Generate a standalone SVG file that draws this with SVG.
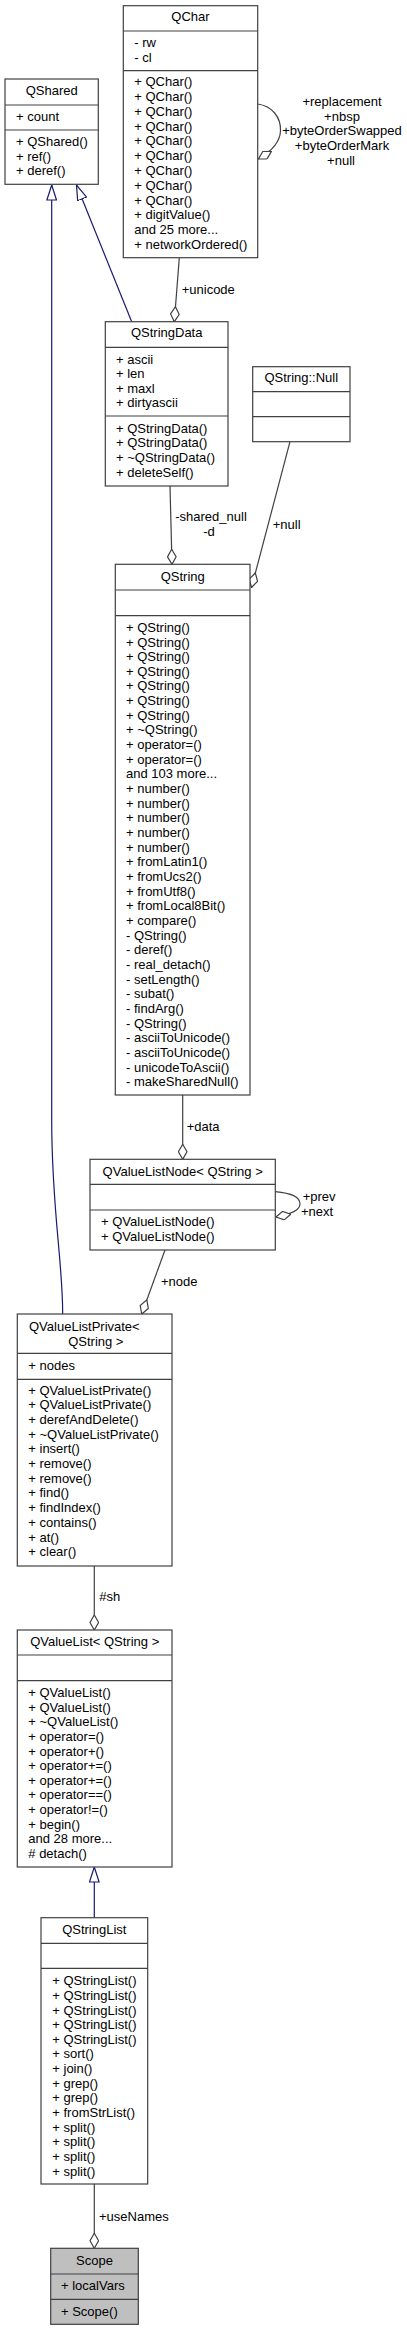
<svg xmlns="http://www.w3.org/2000/svg" width="407" height="2331" viewBox="0 0 407 2331">
<style>
.bg{fill:#fff}
.box{fill:#fff;stroke:#404040;stroke-width:1.2}
.root{fill:#bfbfbf;stroke:#404040;stroke-width:1.2}
.div{stroke:#404040;stroke-width:1.2}
text{font-family:"Liberation Sans",Arial,Helvetica,sans-serif;font-size:13px;fill:#000}
.c{text-anchor:middle}
.agg{fill:none;stroke:#404040;stroke-width:1.2;marker-end:url(#diamond)}
.inh{fill:none;stroke:#191970;stroke-width:1.2;marker-end:url(#tri)}
</style>
<defs>
<marker id="diamond" viewBox="0 0 16 10" refX="15.5" refY="5" markerWidth="16" markerHeight="10" markerUnits="userSpaceOnUse" orient="auto">
<path d="M0.5,5 L8,0.7 L15.5,5 L8,9.3 Z" fill="#fff" stroke="#404040" stroke-width="1.2"/>
</marker>
<marker id="tri" viewBox="0 0 16 11" refX="15.5" refY="5.5" markerWidth="16" markerHeight="11" markerUnits="userSpaceOnUse" orient="auto">
<path d="M0.5,0.7 L15.5,5.5 L0.5,10.3 Z" fill="#fff" stroke="#191970" stroke-width="1.2"/>
</marker>
</defs>
<rect class="bg" x="0" y="0" width="407" height="2331"/>

<g id="connectors">
<path class="inh" d="M62.7,1314 C62.7,1260 51.7,1210 51.7,1120 L51.7,185"/>
<path class="inh" d="M131.7,321.7 L76.5,185"/>
<path class="agg" d="M179.3,257.7 L174.3,321.7"/>
<path class="agg" d="M257.7,104 C272,106 281,117 280.5,131 C280,142 272,151 258.5,159"/>
<path class="agg" d="M170,486 L172,564.3"/>
<path class="agg" d="M290,441.7 L251.5,587.5"/>
<path class="agg" d="M182.7,1095 L182.7,1159.3"/>
<path class="agg" d="M275.3,1191.7 C290,1193 300,1197 300,1204 C300,1210 292,1214 276,1217"/>
<path class="agg" d="M165,1250 L141.7,1314"/>
<path class="agg" d="M94.3,1566 L94.3,1630"/>
<path class="inh" d="M94.3,1917.7 L94.3,1867"/>
<path class="agg" d="M94.3,2184 L94.3,2248.3"/>
<text x="181.7" y="293.5">+unicode</text>
<text class="c" x="342" y="106.2">+replacement</text>
<text class="c" x="342" y="121.2">+nbsp</text>
<text class="c" x="342" y="135.2">+byteOrderSwapped</text>
<text class="c" x="342" y="150.2">+byteOrderMark</text>
<text class="c" x="341" y="165.2">+null</text>
<text class="c" x="211" y="521.2">-shared_null</text>
<text class="c" x="209" y="536.2">-d</text>
<text class="c" x="286.7" y="528.8">+null</text>
<text x="186.7" y="1131.2">+data</text>
<text x="302.7" y="1201.2">+prev</text>
<text x="301" y="1215.5">+next</text>
<text x="161" y="1285.5">+node</text>
<text x="99.3" y="1600.5">#sh</text>
<text x="99" y="2220.5">+useNames</text>
</g>

<g id="QShared">
<rect class="box" x="5" y="79" width="93.3" height="105.3"/>
<line class="div" x1="5" y1="105" x2="98.3" y2="105"/>
<line class="div" x1="5" y1="130" x2="98.3" y2="130"/>
<text class="c" x="51.7" y="94.5">QShared</text>
<text x="16" y="121.2">+ count</text>
<text x="16" y="146.2">+ QShared()</text>
<text x="16" y="160.5">+ ref()</text>
<text x="16" y="175.2">+ deref()</text>
</g>

<g id="QChar">
<rect class="box" x="123.3" y="5.7" width="134.4" height="252"/>
<line class="div" x1="123.3" y1="31" x2="257.7" y2="31"/>
<line class="div" x1="123.3" y1="70.7" x2="257.7" y2="70.7"/>
<text class="c" x="190.5" y="21.2">QChar</text>
<text x="134.3" y="47.2">- rw</text>
<text x="134.3" y="62.2">- cl</text>
<text x="134.3" y="86.2">+ QChar()</text>
<text x="134.3" y="101">+ QChar()</text>
<text x="134.3" y="115.8">+ QChar()</text>
<text x="134.3" y="130.6">+ QChar()</text>
<text x="134.3" y="145.4">+ QChar()</text>
<text x="134.3" y="160.2">+ QChar()</text>
<text x="134.3" y="175">+ QChar()</text>
<text x="134.3" y="189.8">+ QChar()</text>
<text x="134.3" y="204.6">+ QChar()</text>
<text x="134.3" y="219.4">+ digitValue()</text>
<text x="134.3" y="234.2">and 25 more...</text>
<text x="134.3" y="249">+ networkOrdered()</text>
</g>

<g id="QStringData">
<rect class="box" x="105.3" y="321.7" width="122.7" height="164.3"/>
<line class="div" x1="105.3" y1="347.3" x2="228" y2="347.3"/>
<line class="div" x1="105.3" y1="416" x2="228" y2="416"/>
<text class="c" x="166.7" y="337.2">QStringData</text>
<text x="116" y="363.5">+ ascii</text>
<text x="116" y="378.1">+ len</text>
<text x="116" y="392.7">+ maxl</text>
<text x="116" y="407.3">+ dirtyascii</text>
<text x="116" y="432.8">+ QStringData()</text>
<text x="116" y="447.4">+ QStringData()</text>
<text x="116" y="462">+ ~QStringData()</text>
<text x="116" y="476.6">+ deleteSelf()</text>
</g>

<g id="QStringNull">
<rect class="box" x="252.7" y="366.7" width="97.3" height="75"/>
<line class="div" x1="252.7" y1="391.7" x2="350" y2="391.7"/>
<line class="div" x1="252.7" y1="416.7" x2="350" y2="416.7"/>
<text class="c" x="301.3" y="382.2">QString::Null</text>
</g>

<g id="QString">
<rect class="box" x="115.3" y="564.3" width="134.7" height="530.7"/>
<line class="div" x1="115.3" y1="590" x2="250" y2="590"/>
<line class="div" x1="115.3" y1="615.7" x2="250" y2="615.7"/>
<text class="c" x="182.7" y="580.5">QString</text>
<text x="126" y="631.8">+ QString()</text>
<text x="126" y="646.5">+ QString()</text>
<text x="126" y="661.1">+ QString()</text>
<text x="126" y="675.8">+ QString()</text>
<text x="126" y="690.4">+ QString()</text>
<text x="126" y="705.1">+ QString()</text>
<text x="126" y="719.8">+ QString()</text>
<text x="126" y="734.4">+ ~QString()</text>
<text x="126" y="749.1">+ operator=()</text>
<text x="126" y="763.7">+ operator=()</text>
<text x="126" y="778.4">and 103 more...</text>
<text x="126" y="793.1">+ number()</text>
<text x="126" y="807.7">+ number()</text>
<text x="126" y="822.4">+ number()</text>
<text x="126" y="837">+ number()</text>
<text x="126" y="851.7">+ number()</text>
<text x="126" y="866.4">+ fromLatin1()</text>
<text x="126" y="881">+ fromUcs2()</text>
<text x="126" y="895.7">+ fromUtf8()</text>
<text x="126" y="910.3">+ fromLocal8Bit()</text>
<text x="126" y="925">+ compare()</text>
<text x="126" y="939.7">- QString()</text>
<text x="126" y="954.3">- deref()</text>
<text x="126" y="969">- real_detach()</text>
<text x="126" y="983.6">- setLength()</text>
<text x="126" y="998.3">- subat()</text>
<text x="126" y="1013">- findArg()</text>
<text x="126" y="1027.6">- QString()</text>
<text x="126" y="1042.3">- asciiToUnicode()</text>
<text x="126" y="1056.9">- asciiToUnicode()</text>
<text x="126" y="1071.6">- unicodeToAscii()</text>
<text x="126" y="1086.3">- makeSharedNull()</text>
</g>

<g id="QValueListNode">
<rect class="box" x="90" y="1159.3" width="185.3" height="90.7"/>
<line class="div" x1="90" y1="1184.3" x2="275.3" y2="1184.3"/>
<line class="div" x1="90" y1="1210" x2="275.3" y2="1210"/>
<text class="c" x="182.7" y="1176.3">QValueListNode&lt; QString &gt;</text>
<text x="101" y="1226.2">+ QValueListNode()</text>
<text x="101" y="1241.2">+ QValueListNode()</text>
</g>

<g id="QValueListPrivate">
<rect class="box" x="17.3" y="1314" width="154.7" height="252"/>
<line class="div" x1="17.3" y1="1353.3" x2="172" y2="1353.3"/>
<line class="div" x1="17.3" y1="1379.3" x2="172" y2="1379.3"/>
<text x="29" y="1330.5">QValueListPrivate&lt;</text>
<text class="c" x="95.8" y="1345.5">QString &gt;</text>
<text x="28.3" y="1369.5">+ nodes</text>
<text x="28.3" y="1394.5">+ QValueListPrivate()</text>
<text x="28.3" y="1409.2">+ QValueListPrivate()</text>
<text x="28.3" y="1423.9">+ derefAndDelete()</text>
<text x="28.3" y="1438.6">+ ~QValueListPrivate()</text>
<text x="28.3" y="1453.3">+ insert()</text>
<text x="28.3" y="1468">+ remove()</text>
<text x="28.3" y="1482.7">+ remove()</text>
<text x="28.3" y="1497.4">+ find()</text>
<text x="28.3" y="1512.1">+ findIndex()</text>
<text x="28.3" y="1526.8">+ contains()</text>
<text x="28.3" y="1541.5">+ at()</text>
<text x="28.3" y="1556.2">+ clear()</text>
</g>

<g id="QValueList">
<rect class="box" x="17.3" y="1630" width="154.7" height="237"/>
<line class="div" x1="17.3" y1="1655" x2="172" y2="1655"/>
<line class="div" x1="17.3" y1="1680.7" x2="172" y2="1680.7"/>
<text class="c" x="94.7" y="1646.2">QValueList&lt; QString &gt;</text>
<text x="28.3" y="1697.2">+ QValueList()</text>
<text x="28.3" y="1711.8">+ QValueList()</text>
<text x="28.3" y="1726.4">+ ~QValueList()</text>
<text x="28.3" y="1741">+ operator=()</text>
<text x="28.3" y="1755.6">+ operator+()</text>
<text x="28.3" y="1770.2">+ operator+=()</text>
<text x="28.3" y="1784.8">+ operator+=()</text>
<text x="28.3" y="1799.4">+ operator==()</text>
<text x="28.3" y="1814">+ operator!=()</text>
<text x="28.3" y="1828.6">+ begin()</text>
<text x="28.3" y="1843.2">and 28 more...</text>
<text x="28.3" y="1857.8"># detach()</text>
</g>

<g id="QStringList">
<rect class="box" x="41" y="1917.7" width="106.7" height="266.3"/>
<line class="div" x1="41" y1="1943.3" x2="147.7" y2="1943.3"/>
<line class="div" x1="41" y1="1968.3" x2="147.7" y2="1968.3"/>
<text class="c" x="94.3" y="1933.5">QStringList</text>
<text x="52.3" y="1985.2">+ QStringList()</text>
<text x="52.3" y="1999.8">+ QStringList()</text>
<text x="52.3" y="2014.5">+ QStringList()</text>
<text x="52.3" y="2029.1">+ QStringList()</text>
<text x="52.3" y="2043.8">+ QStringList()</text>
<text x="52.3" y="2058.4">+ sort()</text>
<text x="52.3" y="2073">+ join()</text>
<text x="52.3" y="2087.7">+ grep()</text>
<text x="52.3" y="2102.3">+ grep()</text>
<text x="52.3" y="2117">+ fromStrList()</text>
<text x="52.3" y="2131.6">+ split()</text>
<text x="52.3" y="2146.2">+ split()</text>
<text x="52.3" y="2160.9">+ split()</text>
<text x="52.3" y="2175.5">+ split()</text>
</g>

<g id="Scope">
<rect class="root" x="50.7" y="2248.3" width="87.6" height="76"/>
<line class="div" x1="50.7" y1="2274" x2="138.3" y2="2274"/>
<line class="div" x1="50.7" y1="2299.3" x2="138.3" y2="2299.3"/>
<text class="c" x="94.5" y="2264.5">Scope</text>
<text x="61" y="2290.2">+ localVars</text>
<text x="61" y="2315.5">+ Scope()</text>
</g>
</svg>
